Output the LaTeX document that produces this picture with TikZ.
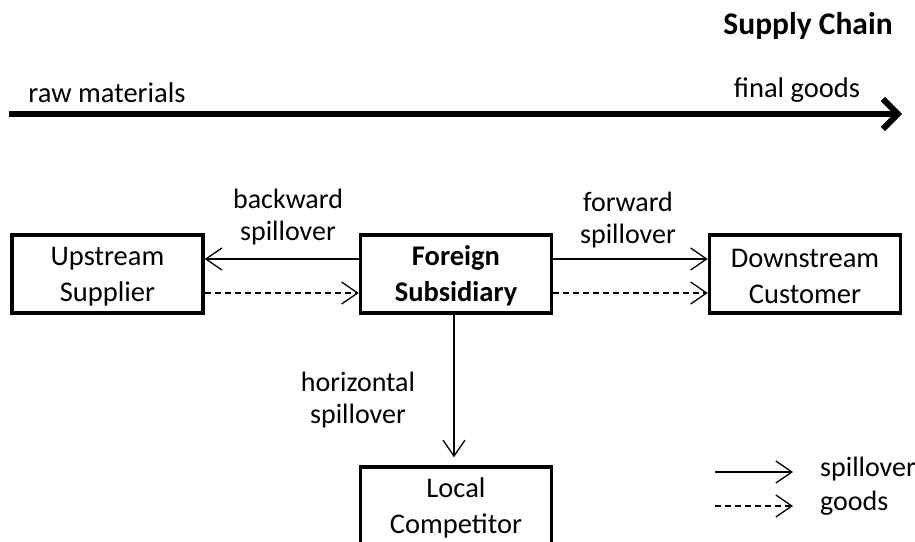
\documentclass[tikz,border=0pt]{standalone}
\usepackage{fontspec}
\setmainfont{Carlito}
\usetikzlibrary{arrows.meta}
\tikzset{
  box/.style={draw, line width=3.5pt, minimum width=191pt, minimum height=78pt, inner sep=0pt, align=center, font=\fontsize{28.5}{36}\selectfont},
  lbl/.style={align=center, inner sep=0pt, font=\fontsize{28}{32}\selectfont},
  conn/.style={line width=1.3pt, -{Straight Barb[length=16pt,width=22pt]}},
  goodsline/.style={conn, dash pattern=on 6pt off 4pt},
}
\begin{document}
\begin{tikzpicture}[x=1pt,y=-1pt]
\clip (0,0) rectangle (915,541);
\fill[white] (0,0) rectangle (915,541);
% supply chain axis
\node[lbl, font=\fontsize{31.5}{36}\selectfont\bfseries] (title) at (808,26) {Supply Chain};
\node[lbl, font=\fontsize{28.5}{32}\selectfont] (raw) at (107,93) {raw materials};
\node[lbl, font=\fontsize{28.5}{32}\selectfont] (final) at (797,90) {final goods};
\coordinate (axS) at (9,114);
\coordinate (axE) at (902,114);
\draw[line width=6pt, -{Straight Barb[length=15pt,width=30pt]}] (axS) -- (axE);
% boxes
\node[box] (up) at (107.5,274) {\rule{0pt}{24pt}Upstream\\Supplier};
\node[box, font=\fontsize{28.5}{36}\selectfont\bfseries] (fs) at (456,274) {\rule{0pt}{24pt}Foreign\\Subsidiary};
\node[box] (down) at (805,274) {\rule{0pt}{24pt}Downstream\\Customer};
\node[box] (local) at (456,506) {\rule{0pt}{24pt}Local\\Competitor};
% connectors
\draw[conn] (fs.west |- 0,259) -- (up.east |- 0,259);
\draw[goodsline] (up.east |- 0,293) -- (fs.west |- 0,293);
\draw[conn] (fs.east |- 0,259) -- (down.west |- 0,259);
\draw[goodsline] (fs.east |- 0,293) -- (down.west |- 0,293);
\draw[conn, shorten >=8pt] (fs.south -| 454,0) -- (local.north -| 454,0);
% labels
\node[lbl] (bl) at (288,217) {backward\\spillover};
\node[lbl] (fl) at (628,220) {forward\\spillover};
\node[lbl] (hl) at (358,400) {horizontal\\spillover};
% legend
\coordinate (l1a) at (715,472);
\coordinate (l1b) at (793,472);
\coordinate (l2a) at (715,506);
\coordinate (l2b) at (793,506);
\draw[conn] (l1a) -- (l1b);
\draw[goodsline] (l2a) -- (l2b);
\node[lbl, anchor=west] (lg1) at (820,469) {spillover};
\node[lbl, anchor=west] (lg2) at (820,503) {goods};
\end{tikzpicture}
\end{document}
